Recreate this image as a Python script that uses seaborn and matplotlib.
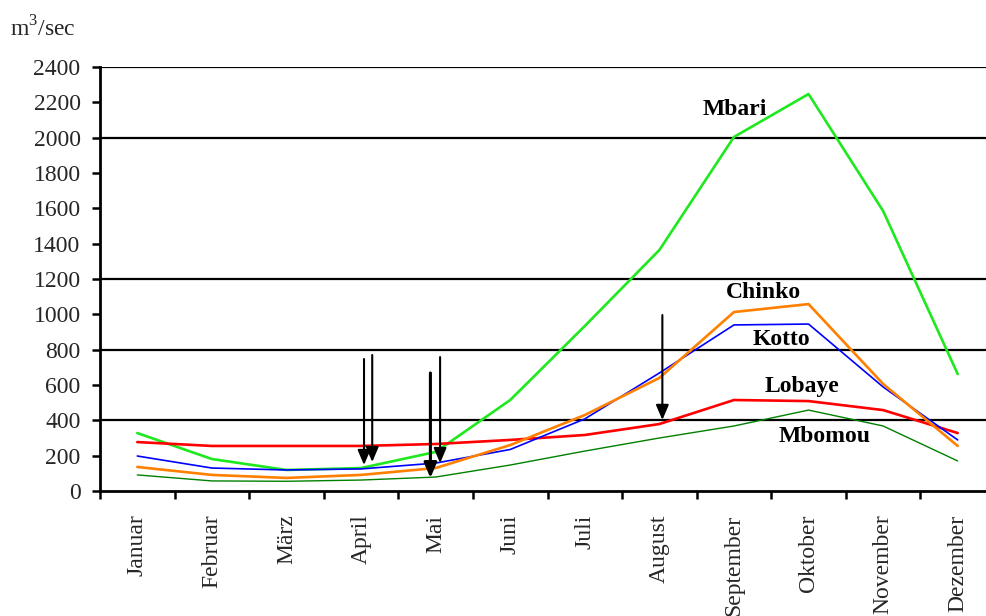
import matplotlib
matplotlib.use("Agg")
import matplotlib.pyplot as plt
import seaborn as sns
import pandas as pd
import numpy as np

months = ["Januar", "Februar", "März", "April", "Mai", "Juni", "Juli",
          "August", "September", "Oktober", "November", "Dezember"]
mbari = [328, 181, 119, 130, 221, 515, 934, 1364, 2004, 2247, 1585, 662]
lobaye = [277, 255, 255, 255, 266, 289, 317, 379, 515, 509, 458, 328]
kotto = [198, 130, 119, 125, 158, 235, 408, 668, 940, 945, 589, 289]
chinko = [136, 91, 74, 91, 130, 260, 430, 640, 1013, 1058, 606, 255]
mbomou = [91, 57, 55, 62, 79, 147, 226, 300, 368, 458, 368, 170]

series_names = ["Mbari", "Lobaye", "Kotto", "Chinko", "Mbomou"]
series_values = [mbari, lobaye, kotto, chinko, mbomou]
colors = {"Mbari": "#1EE81E", "Lobaye": "#FF0000", "Kotto": "#0000FF",
          "Chinko": "#FF8000", "Mbomou": "#008000"}
widths = {"Mbari": 1.9, "Lobaye": 1.9, "Kotto": 1.2, "Chinko": 1.9, "Mbomou": 1.0}

# label positions (x in month index, y in m3/sec)
label_x = [8.01, 8.91, 8.63, 8.40, 9.21]
label_y = [2162, 594, 855, 1121, 310]

# arrows: x position, start value, tip value
arrow_x = [3.04, 3.15, 3.93, 4.06, 7.04]
arrow_start = [747, 770, 668, 758, 996]
arrow_end = [147, 164, 74, 158, 402]
arrow_lw = [1.5, 1.5, 2.2, 1.5, 1.5]

grid_values = [400, 800, 1200, 2000, 2400]

sns.set_theme(style="white")
plt.rcParams['font.family'] = ['Liberation Serif', 'DejaVu Serif']
plt.rcParams['mathtext.fontset'] = 'custom'
plt.rcParams['mathtext.rm'] = 'Liberation Serif'

rows = []
for name, vals in zip(series_names, series_values):
    for i, v in enumerate(vals):
        rows.append({"idx": i, "value": v, "river": name})
df = pd.DataFrame(rows)

fig = plt.figure(figsize=(9.87, 6.16), dpi=100)
ax = fig.add_axes([100/987, 125/616, 895/987, 424/616])

for gv in grid_values:
    ax.axhline(gv, color="black", lw=1.6, zorder=1)

for name in series_names:
    sub = df[df["river"] == name]
    sns.lineplot(data=sub, x="idx", y="value", ax=ax, color=colors[name],
                 lw=widths[name], legend=False, zorder=3)

for xi, ys, ye, lw in zip(arrow_x, arrow_start, arrow_end, arrow_lw):
    ax.annotate("", xy=(xi, ye), xytext=(xi, ys),
                arrowprops=dict(arrowstyle="-|>,head_length=0.75,head_width=0.32",
                                color="black", lw=lw, shrinkA=0, shrinkB=0),
                zorder=5)

for name, lx, ly in zip(series_names, label_x, label_y):
    ax.text(lx, ly, name, ha="center", va="center", fontsize=17,
            fontweight="bold", color="black")

ax.set_xlim(-0.5, 11.5)
ax.set_ylim(0, 2400)
ax.set_xticks(range(12))
ax.set_xticklabels(months, rotation=90, fontsize=17, va="top")
ax.set_xticks(np.arange(-0.5, 12, 1), minor=True)
ax.tick_params(axis="x", which="major", length=0, pad=17)
ax.tick_params(axis="x", which="minor", length=6, width=1.8, direction="out",
               color="black", bottom=True)
ax.set_yticks(range(0, 2401, 200))
ax.tick_params(axis="y", length=6, width=1.8, direction="out", color="black",
               labelsize=17, pad=8, left=True)
ax.set_xlabel("")
ax.set_ylabel("")
for s in ["top", "right"]:
    ax.spines[s].set_visible(False)
for s in ["left", "bottom"]:
    ax.spines[s].set_color("black")
    ax.spines[s].set_linewidth(2)
ax.grid(False)

fig.text(10/987, 1 - 29/616, "m$^{3}$/sec", fontsize=17, ha="left", va="center")

fig.savefig("out.png", dpi=100)
